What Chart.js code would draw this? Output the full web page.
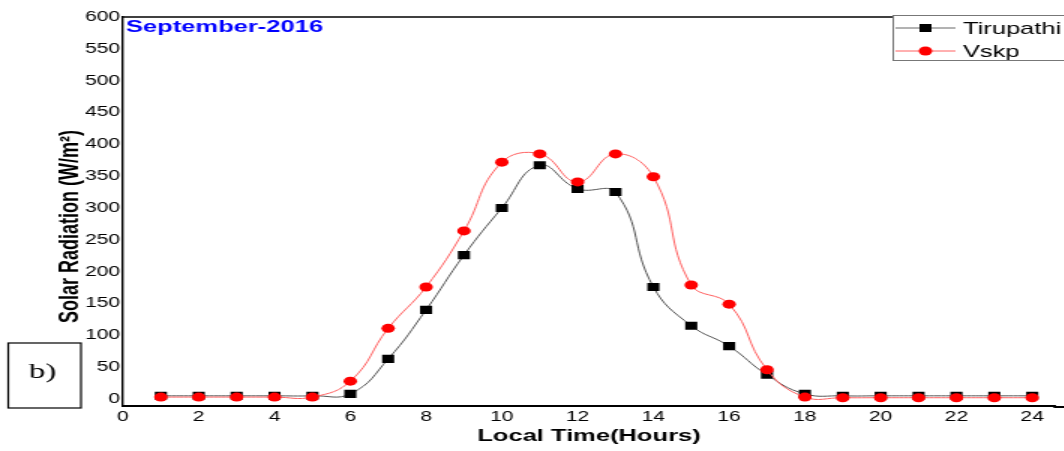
<!DOCTYPE html>
<html>
<head>
<meta charset="utf-8">
<script src="https://cdn.jsdelivr.net/npm/chart.js@4.4.0/dist/chart.umd.min.js"></script>
<style>
  html, body { margin: 0; padding: 0; background: #fff; overflow: hidden; }
  /* the original picture is stretched sideways, so the chart is drawn narrow and widened */
  #myChart { display: block; transform: scaleX(1.5); transform-origin: 0 0; }
</style>
</head>
<body>
<canvas id="myChart" width="709" height="451"></canvas>
<script>
    var hours = [1, 2, 3, 4, 5, 6, 7, 8, 9, 10, 11, 12, 13, 14, 15, 16, 17, 18, 19, 20, 21, 22, 23, 24];
    var tirupathi = [5, 5, 5, 5, 5, 8, 63, 140, 226, 300, 367, 330, 325, 176, 115, 83, 38, 8, 5, 5, 5, 5, 5, 5];
    var vskp = [3, 3, 3, 3, 3, 28, 111, 176, 264, 372, 385, 341, 385, 349, 179, 149, 46, 3, 2, 2, 2, 2, 2, 2];
    var xTicks = [0, 2, 4, 6, 8, 10, 12, 14, 16, 18, 20, 22, 24];
    var yTicks = [0, 50, 100, 150, 200, 250, 300, 350, 400, 450, 500, 550, 600];

    var fontName = "'Liberation Sans', Arial, sans-serif";

    function toPoints(values) {
        return hours.map(function(h, i) { return { x: h, y: values[i] }; });
    }

    // extra bits: frame lines running off the right edge, month label, "b)" box and the boxed legend
    var extras = {
        id: 'extras',
        afterDraw: function(chart) {
            var ctx = chart.ctx;
            var area = chart.chartArea;
            ctx.save();

            ctx.strokeStyle = '#000';
            ctx.lineWidth = 1.5;
            ctx.beginPath();
            ctx.moveTo(area.left, area.top);
            ctx.lineTo(chart.width, area.top);
            ctx.stroke();
            ctx.lineWidth = 2;
            ctx.beginPath();
            ctx.moveTo(area.right - 1, area.bottom + 1);
            ctx.lineTo(chart.width, area.bottom + 1);
            ctx.stroke();

            ctx.fillStyle = '#0000ff';
            ctx.font = "bold 17px " + fontName;
            ctx.textBaseline = 'middle';
            ctx.textAlign = 'left';
            ctx.fillText('September-2016', 84, 27);

            ctx.strokeStyle = '#000';
            ctx.lineWidth = 1.2;
            ctx.strokeRect(5.5, 343, 48.5, 65);
            ctx.fillStyle = '#000';
            ctx.font = "22px 'Liberation Serif', 'Times New Roman', serif";
            ctx.textAlign = 'center';
            ctx.fillText('b)', 28.5, 372);

            // legend
            ctx.fillStyle = '#fff';
            ctx.fillRect(595, 15, 130, 45);
            ctx.strokeStyle = '#777';
            ctx.lineWidth = 1;
            ctx.strokeRect(595.5, 15.5, 130, 45);

            ctx.strokeStyle = '#666';
            ctx.beginPath();
            ctx.moveTo(597, 28);
            ctx.lineTo(637, 28);
            ctx.stroke();
            ctx.fillStyle = '#000';
            ctx.fillRect(613, 24, 8, 8);

            ctx.strokeStyle = '#ff6060';
            ctx.beginPath();
            ctx.moveTo(597, 51);
            ctx.lineTo(637, 51);
            ctx.stroke();
            ctx.fillStyle = '#ff0000';
            ctx.beginPath();
            ctx.arc(617, 51, 4.5, 0, Math.PI * 2);
            ctx.fill();

            ctx.fillStyle = '#000';
            ctx.font = "17px " + fontName;
            ctx.textAlign = 'left';
            ctx.fillText('Tirupathi', 642, 29);
            ctx.fillText('Vskp', 642, 52);

            ctx.restore();
        }
    };

    const ctx = document.getElementById('myChart').getContext('2d');
    const myChart = new Chart(ctx, {
        type: 'line',
        data: {
            datasets: [{
                    label: 'Tirupathi',
                    data: toPoints(tirupathi),
                    borderColor: '#555',
                    borderWidth: 1,
                    backgroundColor: '#000',
                    pointStyle: 'rect',
                    pointRadius: 5.7,
                    pointBorderWidth: 0,
                    tension: 0.45,
                    order: 2
                },
                {
                    label: 'Vskp',
                    data: toPoints(vskp),
                    borderColor: '#ff6060',
                    borderWidth: 1,
                    backgroundColor: '#ff0000',
                    pointStyle: 'circle',
                    pointRadius: 4.5,
                    pointBorderWidth: 0,
                    tension: 0.45,
                    order: 1
                }
            ]
        },
        options: {
            responsive: false,
            animation: false,
            devicePixelRatio: 1,
            layout: { padding: { top: 17, left: 0, right: 0, bottom: 0 } },
            plugins: {
                legend: { display: false },
                tooltip: { enabled: false }
            },
            scales: {
                x: {
                    type: 'linear',
                    min: 0,
                    max: 24.6,
                    grid: { display: false, drawTicks: false },
                    border: { display: true, color: '#000', width: 2 },
                    ticks: {
                        stepSize: 2,
                        padding: 3,
                        color: '#000',
                        maxRotation: 0,
                        font: { family: fontName, size: 14 }
                    },
                    afterBuildTicks: function(axis) {
                        axis.ticks = xTicks.map(function(v) { return { value: v }; });
                    },
                    afterFit: function(scale) { scale.height = 45; },
                    title: {
                        display: true,
                        text: 'Local Time(Hours)',
                        color: '#000',
                        padding: { top: 0, bottom: 4 },
                        font: { family: fontName, size: 17, weight: 'bold' }
                    }
                },
                y: {
                    min: -11,
                    max: 600,
                    grid: { display: false, drawTicks: false },
                    border: { display: true, color: '#000', width: 1.4 },
                    ticks: {
                        stepSize: 50,
                        padding: 2,
                        color: '#000',
                        font: { family: fontName, size: 14 }
                    },
                    afterBuildTicks: function(axis) {
                        axis.ticks = yTicks.map(function(v) { return { value: v }; });
                    },
                    afterFit: function(scale) { scale.width = 82; },
                    title: {
                        display: true,
                        // trailing spaces push the rotated label a little lower, as in the original
                        text: 'Solar Radiation (W/m²)      ',
                        color: '#000',
                        padding: { top: 36, bottom: 0 },
                        font: { family: fontName, size: 18, weight: 'bold' }
                    }
                }
            }
        },
        plugins: [extras]
    });
</script>
</body>
</html>
